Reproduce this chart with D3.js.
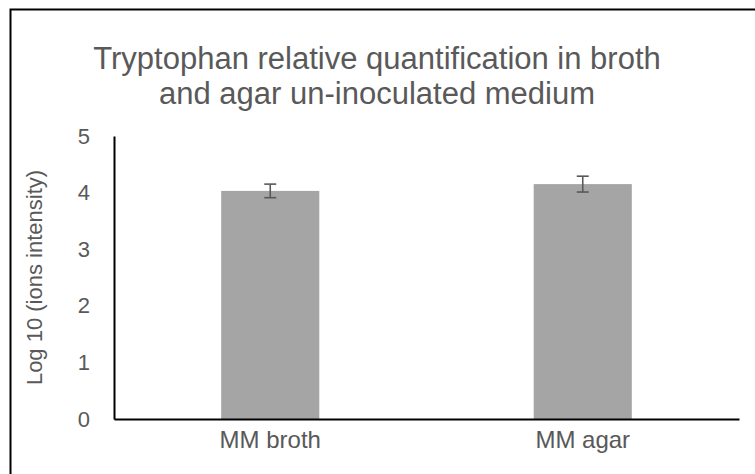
<!DOCTYPE html>
<html>
<head>
<meta charset="utf-8">
<script src="https://cdn.jsdelivr.net/npm/d3@7"></script>
<style>
  body { margin: 0; background: #fff; }
  text { font-family: "Liberation Sans", Arial, sans-serif; fill: #595959; }
</style>
</head>
<body>
<script>
var categories = ['MM broth', 'MM agar'];
var means = [4.03, 4.15];
var errors = [0.12, 0.14];
var yTicks = [0, 1, 2, 3, 4, 5];
var titleLines = ['Tryptophan relative quantification in broth', 'and agar un-inoculated medium'];
var yTitle = 'Log 10 (ions intensity)';

var width = 755, height = 474;
var plot = { left: 114, right: 739, top: 136, bottom: 419 };

var svg = d3.select('body').append('svg')
  .attr('width', width)
  .attr('height', height);

// chart frame, runs off the right and bottom edges
svg.append('rect')
  .attr('x', 10.5).attr('y', 9.5)
  .attr('width', 800).attr('height', 500)
  .attr('fill', 'none')
  .attr('stroke', '#000')
  .attr('stroke-width', 2);

var x = d3.scaleBand()
  .domain(categories)
  .range([plot.left, plot.right])
  .paddingInner(0.686)
  .paddingOuter(0.343);

var y = d3.scaleLinear()
  .domain([0, 5])
  .range([plot.bottom, plot.top]);

// title
svg.append('g').selectAll('text')
  .data(titleLines)
  .enter().append('text')
  .attr('x', 377)
  .attr('y', function(d, i) { return 69 + i * 35; })
  .attr('text-anchor', 'middle')
  .style('font-size', '31px')
  .text(function(d) { return d; });

// bars
svg.append('g').selectAll('rect')
  .data(means)
  .enter().append('rect')
  .attr('x', function(d, i) { return x(categories[i]); })
  .attr('y', function(d) { return y(d); })
  .attr('width', x.bandwidth())
  .attr('height', function(d) { return y(0) - y(d); })
  .attr('fill', '#a5a5a5');

// error bars
var eb = svg.append('g').selectAll('g')
  .data(means)
  .enter().append('g')
  .attr('transform', function(d, i) {
    return 'translate(' + (x(categories[i]) + x.bandwidth() / 2) + ',0)';
  })
  .attr('stroke', '#595959')
  .attr('stroke-width', 1.6);

eb.append('line')
  .attr('y1', function(d, i) { return y(d + errors[i]); })
  .attr('y2', function(d, i) { return y(d - errors[i]); });
eb.append('line')
  .attr('x1', -6).attr('x2', 6)
  .attr('y1', function(d, i) { return y(d + errors[i]); })
  .attr('y2', function(d, i) { return y(d + errors[i]); });
eb.append('line')
  .attr('x1', -6).attr('x2', 6)
  .attr('y1', function(d, i) { return y(d - errors[i]); })
  .attr('y2', function(d, i) { return y(d - errors[i]); });

// y axis
var yAxis = svg.append('g')
  .attr('transform', 'translate(' + plot.left + ',0)')
  .call(d3.axisLeft(y).tickValues(yTicks).tickSize(0).tickPadding(24).tickFormat(d3.format('d')));
yAxis.select('.domain').attr('stroke', '#000').attr('stroke-width', 2);
yAxis.selectAll('text').style('font-size', '22px').attr('fill', '#595959');

// x axis
var xAxis = svg.append('g')
  .attr('transform', 'translate(0,' + plot.bottom + ')')
  .call(d3.axisBottom(x).tickSize(0).tickPadding(12));
xAxis.select('.domain').attr('stroke', '#000').attr('stroke-width', 2);
xAxis.selectAll('text').style('font-size', '24px').attr('fill', '#595959');

// y axis title
svg.append('text')
  .attr('transform', 'translate(42,' + ((plot.top + plot.bottom) / 2) + ') rotate(-90)')
  .attr('text-anchor', 'middle')
  .style('font-size', '22px')
  .text(yTitle);
</script>
</body>
</html>
